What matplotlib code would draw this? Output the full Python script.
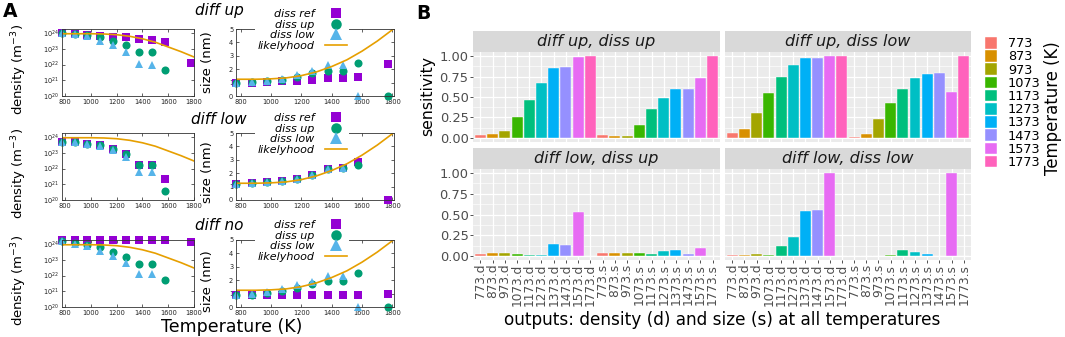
import numpy as np
import matplotlib
matplotlib.use("Agg")
import matplotlib.pyplot as plt
from matplotlib.ticker import NullLocator

W, H = 1065, 337
nan = np.nan

temps = [773, 873, 973, 1073, 1173, 1273, 1373, 1473, 1573, 1773]

# --- panel A: density (m^-3) per row
dens_diffup_ref = [1.0e24, 8.6e23, 7.8e23, 6.8e23, 5.9e23, 5.3e23, 4.2e23, 3.8e23, 2.6e23, 1.2e22]
dens_diffup_up = [1.0e24, 8.6e23, 7.1e23, 5.3e23, 3.3e23, 1.7e23, 5.9e22, 5.9e22, 4.5e21, nan]
dens_diffup_low = [1.0e24, 8.4e23, 6.8e23, 3.3e23, 1.8e23, 5.9e22, 1.1e22, 9.3e21, nan, nan]

dens_difflow_ref = [5.0e23, 4.5e23, 3.7e23, 2.9e23, 1.8e23, 8.0e22, 1.6e22, 1.6e22, 2.1e21, nan]
dens_difflow_up = [5.0e23, 4.5e23, 3.7e23, 2.9e23, 1.8e23, 8.0e22, 1.6e22, 1.6e22, 3.6e20, nan]
dens_difflow_low = [5.0e23, 4.5e23, 3.6e23, 2.8e23, 1.5e23, 5.1e22, 6.1e21, 6.1e21, nan, nan]

dens_diffno_ref = [1.7e24, 1.7e24, 1.7e24, 1.7e24, 1.7e24, 1.7e24, 1.7e24, 1.7e24, 1.7e24, 1.3e24]
dens_diffno_up = [1.6e24, 1.15e24, 9.1e23, 6.1e23, 3.1e23, 1.5e23, 5.6e22, 5.4e22, 4.9e21, nan]
dens_diffno_low = [1.6e24, 1.05e24, 7.1e23, 3.4e23, 1.65e23, 6.2e22, 1.25e22, 1.25e22, nan, nan]

# --- panel A: size (nm) per row
size_diffup_ref = [1.0, 1.0, 1.05, 1.1, 1.15, 1.2, 1.35, 1.35, 1.45, 2.4]
size_diffup_up = [1.0, 1.05, 1.1, 1.2, 1.4, 1.7, 1.9, 1.9, 2.5, 0.0]
size_diffup_low = [1.0, 1.05, 1.15, 1.3, 1.55, 1.9, 2.3, 2.35, 0.0, nan]

size_difflow_ref = [1.2, 1.25, 1.35, 1.45, 1.6, 1.9, 2.35, 2.4, 2.8, 0.0]
size_difflow_up = [1.2, 1.25, 1.35, 1.45, 1.6, 1.9, 2.35, 2.4, 2.6, nan]
size_difflow_low = [1.2, 1.25, 1.35, 1.45, 1.6, 1.9, 2.35, 2.4, nan, nan]

size_diffno_ref = [0.9, 0.9, 0.9, 0.9, 0.9, 0.9, 0.9, 0.9, 0.9, 0.95]
size_diffno_up = [0.9, 0.92, 1.05, 1.2, 1.45, 1.7, 1.95, 1.95, 2.55, 0.0]
size_diffno_low = [0.9, 0.95, 1.1, 1.35, 1.65, 1.9, 2.3, 2.35, 0.0, nan]

# likelihood curves (same for all rows)
lik_T = [773, 900, 1000, 1100, 1200, 1300, 1400, 1500, 1600, 1700, 1800]
lik_dens = [9e23, 9e23, 9e23, 8.7e23, 7.8e23, 6.2e23, 4.3e23, 2.6e23, 1.3e23, 6.5e22, 3e22]
lik_size = [1.25, 1.25, 1.28, 1.35, 1.52, 1.8, 2.2, 2.7, 3.35, 4.1, 4.95]

# --- panel B: sensitivity, density (d) then size (s) outputs
sens_upup_d = [0.036, 0.045, 0.08, 0.25, 0.46, 0.67, 0.86, 0.87, 0.99, 1.0]
sens_upup_s = [0.035, 0.028, 0.02, 0.16, 0.35, 0.49, 0.60, 0.60, 0.73, 1.0]
sens_uplow_d = [0.057, 0.11, 0.31, 0.55, 0.74, 0.89, 0.98, 0.98, 1.0, 1.0]
sens_uplow_s = [0.01, 0.045, 0.23, 0.43, 0.60, 0.73, 0.78, 0.79, 0.56, 1.0]
sens_lowup_d = [0.025, 0.03, 0.03, 0.027, 0.015, 0.008, 0.146, 0.134, 0.53, 0.0]
sens_lowup_s = [0.03, 0.03, 0.04, 0.04, 0.025, 0.053, 0.073, 0.025, 0.10, 0.0]
sens_lowlow_d = [0.01, 0.008, 0.025, 0.008, 0.12, 0.225, 0.54, 0.56, 1.0, 0.0]
sens_lowlow_s = [0.0, 0.0, 0.004, 0.007, 0.072, 0.05, 0.028, 0.0, 1.0, 0.0]

outputs = [f"{t}.d" for t in temps] + [f"{t}.s" for t in temps]

COL_REF = "#9400d3"
COL_UP = "#009e73"
COL_LOW = "#56b4e9"
COL_LIK = "#e69f00"
hue = ["#F8766D", "#D89000", "#A3A500", "#39B600", "#00BF7D",
       "#00BFC4", "#00B0F6", "#9590FF", "#E76BF3", "#FF62BC"]

fig = plt.figure(figsize=(W / 100, H / 100), dpi=100)


def box(x0, y0, x1, y1):
    # pixel box (top-left origin) -> figure axes
    return fig.add_axes([x0 / W, 1 - y1 / H, (x1 - x0) / W, (y1 - y0) / H])


def px(x, y):
    return x / W, 1 - y / H


def gp_style(ax, xlim):
    ax.set_xlim(*xlim)
    ax.set_xticks([800, 1000, 1200, 1400, 1600, 1800])
    ax.tick_params(direction="in", top=True, right=True, length=2.5, width=0.5,
                   labelsize=4.8, pad=2, colors="#222222")
    for s in ax.spines.values():
        s.set_linewidth(0.6)
        s.set_color("#333333")


def scatter3(ax, ref, up, low):
    h1, = ax.plot(temps, ref, "s", color=COL_REF, ms=5.6, mew=0, clip_on=False)
    h2, = ax.plot(temps, up, "o", color=COL_UP, ms=5.8, mew=0, clip_on=False)
    h3, = ax.plot(temps, low, "^", color=COL_LOW, ms=6.2, mew=0, clip_on=False)
    return h1, h2, h3


rows = [
    ("diff up", dens_diffup_ref, dens_diffup_up, dens_diffup_low,
     size_diffup_ref, size_diffup_up, size_diffup_low, 29, 96, 11, 69, 62),
    ("diff low", dens_difflow_ref, dens_difflow_up, dens_difflow_low,
     size_difflow_ref, size_difflow_up, size_difflow_low, 133, 200, 119, 173, 172),
    ("diff no", dens_diffno_ref, dens_diffno_up, dens_diffno_low,
     size_diffno_ref, size_diffno_up, size_diffno_low, 240, 307, 226, 280, 281),
]

for title, dr, du, dl, sr, su, sl, y0, y1, ty, dly, sly in rows:
    ax = box(62, y0, 194, y1)
    scatter3(ax, dr, du, dl)
    ax.plot(lik_T, lik_dens, color=COL_LIK, lw=1.2)
    ax.set_yscale("log")
    ax.set_ylim(1e20, 1.8e24)
    ax.set_yticks([1e20, 1e21, 1e22, 1e23, 1e24])
    ax.yaxis.set_minor_locator(NullLocator())
    gp_style(ax, (775, 1800))
    fig.text(*px(19, dly), "density (m$^{-3}$)", rotation=90, ha="center",
             va="center", fontsize=9.5)

    ax = box(236, y0, 394, y1)
    hs = scatter3(ax, sr, su, sl)
    hl, = ax.plot(lik_T, lik_size, color=COL_LIK, lw=1.2)
    ax.set_ylim(0, 5)
    ax.set_yticks([0, 1, 2, 3, 4, 5])
    gp_style(ax, (770, 1810))
    fig.text(*px(208, sly), "size (nm)", rotation=90, ha="center",
             va="center", fontsize=9.5)
    ax.legend(list(hs) + [hl], ["diss ref", "diss up", "diss low", "likelyhood"],
              loc="upper right", bbox_to_anchor=px(349, y0 - 22),
              bbox_transform=fig.transFigure, markerfirst=False, markerscale=1.3,
              prop=dict(style="italic", size=8), labelspacing=0.05,
              handlelength=2.0, handletextpad=0.9, borderpad=0.2,
              borderaxespad=0, frameon=True, fancybox=False,
              edgecolor="none", facecolor="white", framealpha=1)

    fig.text(*px(219, ty), title, ha="center", va="center", style="italic",
             fontsize=11)

fig.text(*px(232, 327), "Temperature (K)", ha="center", va="center", fontsize=12.5)
fig.text(*px(3, 2), "A", ha="left", va="top", fontsize=13.5, weight="bold")

# --- panel B
facets = [
    ("diff up, diss up", sens_upup_d, sens_upup_s, 473, 720, 31, 52, 142, True, False),
    ("diff up, diss low", sens_uplow_d, sens_uplow_s, 725, 971, 31, 52, 142, False, False),
    ("diff low, diss up", sens_lowup_d, sens_lowup_s, 473, 720, 148, 169, 260, True, True),
    ("diff low, diss low", sens_lowlow_d, sens_lowlow_s, 725, 971, 148, 169, 260, False, True),
]

xpos = np.arange(1, len(outputs) + 1)
bar_handles = None
for title, sd, ss, x0, x1, s0, s1, p1, left, bottom in facets:
    st = box(x0, s0, x1, s1)
    st.set_facecolor("#D9D9D9")
    st.set_xticks([])
    st.set_yticks([])
    for s in st.spines.values():
        s.set_visible(False)
    st.text(0.5, 0.5, title, transform=st.transAxes, ha="center", va="center",
            style="italic", fontsize=11.5, color="#1A1A1A")

    ax = box(x0, s1, x1, p1)
    ax.set_facecolor("#EBEBEB")
    for s in ax.spines.values():
        s.set_visible(False)
    bars = ax.bar(xpos, list(sd) + list(ss), width=0.9, color=hue + hue,
                  edgecolor="white", linewidth=0.3)
    if bar_handles is None:
        bar_handles = bars[:len(temps)]
    ax.set_xlim(0.4, len(outputs) + 0.6)
    ax.set_ylim(-0.05, 1.05)
    ax.set_yticks([0, 0.25, 0.5, 0.75, 1.0])
    ax.set_yticks([0.125, 0.375, 0.625, 0.875], minor=True)
    ax.set_xticks(xpos)
    ax.grid(which="major", color="white", lw=0.9)
    ax.grid(which="minor", axis="y", color="white", lw=0.45)
    ax.set_axisbelow(True)
    ax.tick_params(which="minor", length=0)
    ax.tick_params(which="major", colors="#333333", labelcolor="#4D4D4D",
                   length=2.2, width=0.6)
    if left:
        ax.set_yticklabels(["0.00", "0.25", "0.50", "0.75", "1.00"], fontsize=9.4)
        ax.tick_params(axis="y", pad=1)
    else:
        ax.tick_params(axis="y", length=0, labelleft=False)
    if bottom:
        ax.set_xticklabels(outputs, rotation=90, fontsize=8.7)
        ax.tick_params(axis="x", pad=0.5)
    else:
        ax.tick_params(axis="x", length=0, labelbottom=False)

fig.text(*px(428, 96), "sensitivity", rotation=90, ha="center", va="center",
         fontsize=11.3)
fig.text(*px(722, 320), "outputs: density (d) and size (s) at all temperatures",
         ha="center", va="center", fontsize=12.2)
fig.text(*px(416, 4), "B", ha="left", va="top", fontsize=13.5, weight="bold")

fig.legend(bar_handles, [str(t) for t in temps], loc="upper left",
           bbox_to_anchor=px(985, 37), bbox_transform=fig.transFigure,
           frameon=False, fontsize=9.3, labelspacing=0.0, handlelength=0.93,
           handleheight=1.0, handletextpad=0.85, borderpad=0, borderaxespad=0)
fig.text(*px(1053, 108), "Temperature (K)", rotation=90, ha="center",
         va="center", fontsize=11.9)

fig.savefig("out.png", dpi=100)
